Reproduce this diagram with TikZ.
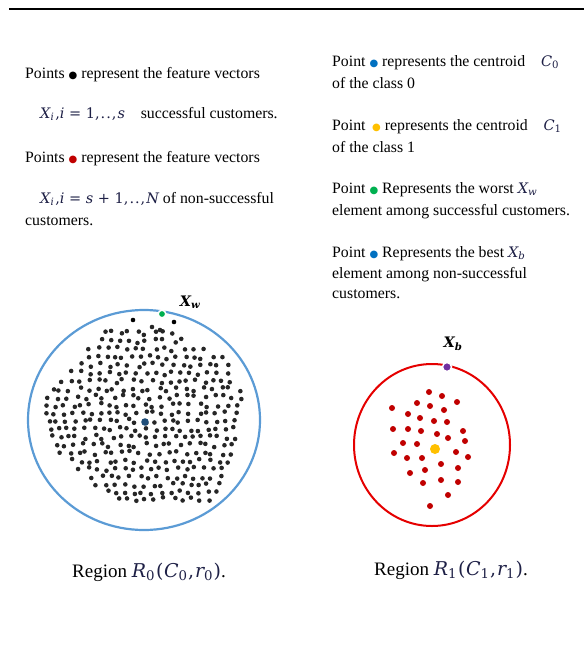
\documentclass[tikz,border=0pt]{standalone}
\usepackage{fontspec}
\setmainfont{Liberation Serif}
\newfontfamily\dejavu{DejaVu Sans}
\newfontfamily\dvs{DejaVu Serif}
\definecolor{mathc}{RGB}{30,32,70}
\definecolor{ringblue}{RGB}{91,155,213}
\definecolor{cenblue}{RGB}{31,78,121}
\definecolor{darkred}{RGB}{192,0,0}
\definecolor{ptblue}{RGB}{0,112,192}
\definecolor{ptyellow}{RGB}{255,192,0}
\definecolor{ptgreen}{RGB}{0,176,80}
\definecolor{ptpurple}{RGB}{112,48,160}
\newcommand{\bulx}[1]{{\dejavu\fontsize{10}{10}\selectfont\textcolor{#1}{●}}}
% math-like text in a sturdy serif
\newcommand{\MI}[1]{{\dvs\itshape #1}}
\newcommand{\SBi}[1]{\textsubscript{\dvs\itshape #1}}
\newcommand{\SBu}[1]{\textsubscript{\dvs #1}}
\newcommand{\MM}[1]{{\color{mathc}\dvs\fontsize{14.5}{20}\selectfont #1}}
\begin{document}
\begin{tikzpicture}[x=1pt,y=-1pt,
  txt/.style={anchor=base west, inner sep=0pt, font=\fontsize{15.8}{21.5}\selectfont},
  big/.style={anchor=base west, inner sep=0pt, font=\fontsize{19}{23}\selectfont},
  lbl/.style={inner sep=0pt, font=\dvs\bfseries\itshape\fontsize{14.5}{16}\selectfont}]
\useasboundingbox (0,0) rectangle (584,656);
% top rule
\coordinate (r1) at (9,9);
\coordinate (r2) at (584,9);
\draw[line width=2pt] (r1) -- (r2);
% left text
\node[txt] (l1) at (25,78) {Points \bulx{black} represent the feature vectors};
\node[txt] (l2) at (40,118) {\MM{\MI{X}\SBi{i}\kern1pt,\MI{i} = 1,\kern1pt.\kern1pt.\kern1pt,\kern1pt\MI{s}}\quad successful customers.};
\node[txt] (l3) at (25,162) {Points \bulx{darkred} represent the feature vectors};
\node[txt] (l4) at (40,203) {\MM{\MI{X}\SBi{i}\kern1pt,\MI{i} = \MI{s} + 1,\kern1pt.\kern1pt.\kern1pt,\kern1pt\MI{N}} of non-successful};
\node[txt] (l5) at (25,225) {customers.};
% right text
\node[txt] (p1) at (332,66) {Point \bulx{ptblue} represents the centroid\quad \MM{\MI{C}\SBu{0}}};
\node[txt] (p2) at (332,88) {of the class 0};
\node[txt] (p3) at (332,130) {Point \,\bulx{ptyellow} represents the centroid\quad \MM{\MI{C}\SBu{1}}};
\node[txt] (p4) at (332,152) {of the class 1};
\node[txt] (p5) at (332,193) {Point \bulx{ptgreen} Represents the worst \MM{\MI{X}\SBi{w}}};
\node[txt] (p6) at (332,215) {element among successful customers.};
\node[txt] (p7) at (332,257) {Point \bulx{ptblue} Represents the best \MM{\MI{X}\SBi{b}}};
\node[txt] (p8) at (332,278) {element among non-successful};
\node[txt] (p9) at (332,298) {customers.};
% left region
\draw[ringblue, line width=2.2pt] (144,420) ellipse [x radius=116, y radius=110];
\pgfmathsetseed{17}
\foreach \yy/\xa/\xb [count=\r] in {
  333/102/170, 341/100/183, 349/88/200, 357/88/220, 365/82/225, 373/73/227,
  381/60/230, 389/52/238, 397/47/240, 405/45/236, 413/45/233, 421/48/233,
  429/48/233, 437/50/237, 445/55/232, 453/60/230, 461/70/227, 469/78/223,
  477/92/220, 485/98/217, 492/105/215, 499/118/210} {
  \pgfmathtruncatemacro\n{max(1,round((\xb-\xa)/9))}
  \pgfmathsetmacro\off{mod(\r,2)*4.5}
  \foreach \k in {0,...,\n} {
    \pgfmathsetmacro\px{\xa+\k*(\xb-\xa)/\n + 2.6*rand + \off*0.3}
    \pgfmathsetmacro\py{\yy+2.2*rand}
    \fill[black!85] (\px,\py) circle (2.3pt);
  }
}
\fill[black] (133,320) circle (2.3pt);
\fill[black] (174,322) circle (2.3pt);
\fill[black!85] (152,327) circle (2.3pt);
\fill[black!85] (160,330) circle (2.3pt);
\fill[ptgreen, draw=white, line width=1.5pt] (162,314) circle (3.8pt);
\node[lbl] (xw) at (190,302) {X\textsubscript{w}};
\fill[cenblue] (145,422) circle (3.8pt);
% right region
\draw[red!90!black, line width=2pt] (432,445) ellipse [x radius=78, y radius=81];
\foreach \px/\py in {429/392, 442/396, 417/403, 430/406, 457/402, 392/408,
  408/414, 420/418, 444/410, 434/421, 447/422, 393/429, 408/429, 421/431,
  437/434, 448/438, 463/431, 465/441, 403/443, 417/444, 394/453, 407/458,
  422/458, 456/452, 468/457, 425/470, 441/464, 458/468, 410/473, 423/483,
  441/480, 458/482, 448/495, 430/506}
  \fill[darkred] (\px,\py) circle (3pt);
\fill[ptyellow] (435,449) circle (5pt);
\fill[ptpurple, draw=white, line width=1.5pt] (447,367) circle (4.5pt);
\node[lbl] (xb) at (453,344) {X\textsubscript{b}};
% region labels
\node[big] (g0) at (72,577) {Region {\color{mathc}\dvs\fontsize{19}{23}\selectfont\MI{R}\SBu{0}\kern1pt(\kern0.5pt\MI{C}\SBu{0}\kern0.5pt,\kern1pt\MI{r}\SBu{0}\kern0.5pt)}.};
\node[big] (g1) at (374,575) {Region {\color{mathc}\dvs\fontsize{19}{23}\selectfont\MI{R}\SBu{1}\kern1pt(\kern0.5pt\MI{C}\SBu{1}\kern0.5pt,\kern1pt\MI{r}\SBu{1}\kern0.5pt)}.};
\end{tikzpicture}
\end{document}
